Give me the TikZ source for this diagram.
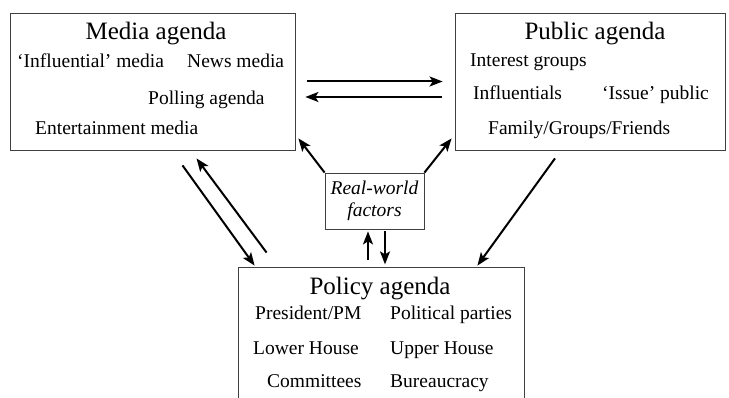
\documentclass[tikz,border=0pt]{standalone}
\usepackage{fontspec}
\setmainfont{Liberation Serif}
\usetikzlibrary{arrows.meta}

\tikzset{
  agenda/.style={draw=black!75, line width=0.8pt, inner sep=0pt},
  item/.style={anchor=base west, inner sep=0pt, font=\fontsize{19.5}{22}\selectfont},
  heading/.style={anchor=base, inner sep=0pt, font=\fontsize{25}{28}\selectfont},
  flow/.style={line width=2pt, -{Stealth[length=13pt,width=10pt,inset=3pt]}}
}

\begin{document}
\begin{tikzpicture}[x=1pt,y=-1pt]
\useasboundingbox (0,0) rectangle (729,398);
\node[agenda, minimum width=285pt, minimum height=137pt] (media) at (152.5,81.5) {};
\node[agenda, minimum width=270pt, minimum height=137pt] (public) at (590,81.5) {};
\node[agenda, minimum width=99pt, minimum height=56pt] (real) at (374.5,201) {};
\node[agenda, minimum width=286pt, minimum height=150pt] (policy) at (381,342) {};
% media agenda
\node[heading] (mediatitle) at (156,40) {Media agenda};
\node[item] (influential) at (17,68) {`Influential' media};
\node[item] (news) at (187,68) {News media};
\node[item] (polling) at (148,105) {Polling agenda};
\node[item] (entertain) at (35,135) {Entertainment media};
% public agenda
\node[heading] (publictitle) at (595,40) {Public agenda};
\node[item] (interest) at (470,67) {Interest groups};
\node[item] (influentials) at (473,100) {Influentials};
\node[item] (issue) at (602,100) {`Issue' public};
\node[item] (family) at (488,135) {Family/Groups/Friends};
% real-world factors
\node[item, anchor=base, font=\fontsize{19.5}{22}\selectfont\itshape] (realtop) at (374.5,195) {Real-world};
\node[item, anchor=base, font=\fontsize{19.5}{22}\selectfont\itshape] (realbot) at (374.5,217) {factors};
% policy agenda
\node[heading] (policytitle) at (380,295) {Policy agenda};
\node[item] (president) at (255,320) {President/PM};
\node[item] (parties) at (390,320) {Political parties};
\node[item] (lower) at (253,355) {Lower House};
\node[item] (upper) at (390,355) {Upper House};
\node[item] (committees) at (267,388) {Committees};
\node[item] (bureau) at (390,388) {Bureaucracy};

\draw[flow] ([xshift=12pt]media.east) -- ([xshift=-12pt]public.west);
\draw[flow] ([xshift=-13pt,yshift=-15.5pt]public.west) -- ([xshift=10pt,yshift=-15.5pt]media.east);
\draw[flow] (real.north west) -- ([xshift=3pt,yshift=12pt]media.south east);
\draw[flow] (real.north east) -- ([xshift=-3pt,yshift=12pt]public.south west);
\draw[flow] ([xshift=30pt,yshift=-15pt]media.south) -- ([xshift=17pt,yshift=1pt]policy.north west);
\draw[flow] ([xshift=29pt,yshift=14pt]policy.north west) -- ([xshift=44pt,yshift=-8pt]media.south);
\draw[flow] ([xshift=-6.5pt,yshift=-31pt]real.south) -- ([xshift=-6.5pt,yshift=-2pt]real.south);
\draw[flow] ([xshift=10.5pt,yshift=-2pt]real.south) -- ([xshift=10.5pt,yshift=-35pt]real.south);
\draw[flow] ([xshift=-35pt,yshift=-8pt]public.south) -- ([xshift=-47pt,yshift=1pt]policy.north east);
\end{tikzpicture}
\end{document}
